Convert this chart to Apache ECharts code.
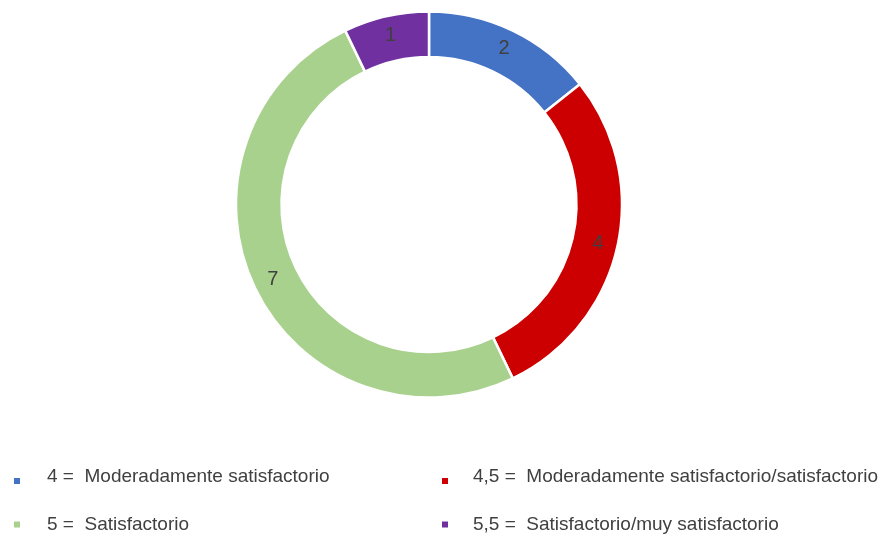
<!DOCTYPE html>
<html><head><meta charset="utf-8">
<script src="https://cdn.jsdelivr.net/npm/echarts@6/dist/echarts.min.js"></script>
<style>html,body{margin:0;padding:0;background:#fff}#c{width:888px;height:535px}</style>
</head><body><div id="c"></div>
<script>
const categories = ["4 =  Moderadamente satisfactorio", "4,5 =  Moderadamente satisfactorio/satisfactorio", "5 =  Satisfactorio", "5,5 =  Satisfactorio/muy satisfactorio"];
const values = [2, 4, 7, 1];
const colors = ["#4472C4", "#CC0000", "#A9D18E", "#7030A0"];

const chart = echarts.init(document.getElementById('c'), null, {renderer: 'canvas'});
const font = '"Liberation Sans", Arial, sans-serif';
const lowIcon = 'path://M0,0M0,9L8,9L8,17L0,17Z';
const legendPos = [
  {left: 12, top: 467, icon: lowIcon, h: 17, pad: [0, 0, 0, 21]},
  {left: 440, top: 467, icon: lowIcon, h: 17, pad: [0, 0, 0, 19]},
  {left: 12, top: 515, icon: 'rect', h: 8, pad: [0, 0, 0, 21]},
  {left: 440, top: 515, icon: 'rect', h: 8, pad: [0, 0, 0, 19]}
];
const legends = categories.map((name, i) => ({
  left: legendPos[i].left, top: legendPos[i].top,
  padding: 0,
  orient: 'horizontal',
  data: [name],
  icon: legendPos[i].icon, itemWidth: 8, itemHeight: legendPos[i].h,
  selectedMode: false,
  textStyle: {color: '#404040', fontSize: 19, fontFamily: font, padding: legendPos[i].pad}
}));
chart.setOption({
  animation: false,
  color: colors,
  legend: legends,
  series: [{
    type: 'pie',
    center: [429, 204.5],
    radius: [147.5, 193],
    startAngle: 90,
    clockwise: true,
    avoidLabelOverlap: false,
    itemStyle: {borderColor: '#fff', borderWidth: 2.5},
    label: {show: true, position: 'inside', formatter: '{c}', color: '#404040', fontSize: 20, fontFamily: font},
    labelLine: {show: false},
    data: categories.map((n, i) => ({name: n, value: values[i]}))
  }]
});
</script></body></html>
